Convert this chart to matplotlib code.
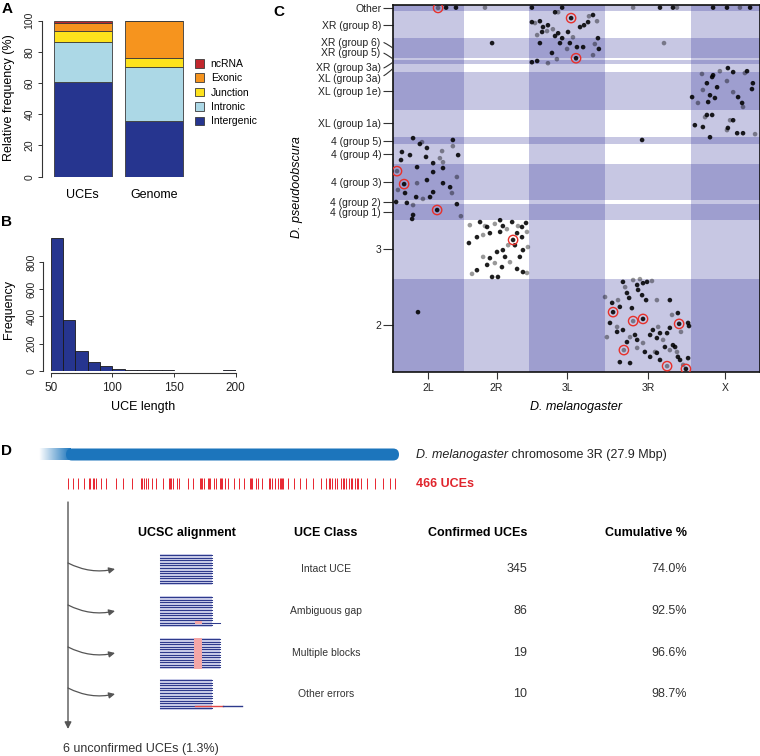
import numpy as np
import matplotlib.pyplot as plt
from matplotlib.patches import Patch, Rectangle, FancyBboxPatch
from matplotlib.colors import to_rgb

plt.rcParams['font.family'] = ['Liberation Sans', 'DejaVu Sans']

W, H = 760, 756

# ---------------- data ----------------
# A: genomic annotation of UCEs vs genome (%)
groups = ['UCEs', 'Genome']
classes = ['Intergenic', 'Intronic', 'Junction', 'Exonic', 'ncRNA']
class_colors = ['#26358f', '#acd8e6', '#fde21c', '#f6941e', '#c1272d']
freq_uces = [60.7, 25.6, 7.1, 5.3, 1.3]
freq_genome = [35.5, 34.6, 6.2, 23.3, 0.4]

# B: UCE length histogram
len_edges = np.arange(50, 201, 10)
len_counts = [975, 370, 148, 66, 33, 10, 4, 3, 2, 2, 1, 1, 1, 1, 2]

# C: synteny dot plot (Mb, cumulative)
mel_chroms = ['2L', '2R', '3L', '3R', 'X']
mel_sizes = [23.0, 21.1, 24.5, 27.9, 22.4]
pse_bands = ['2', '3', '4 (group 1)', '4 (group 2)', '4 (group 3)', '4 (group 4)',
             '4 (group 5)', 'XL (group 1a)', 'XL (group 1e)', 'XL (group 3a)',
             'XR (group 3a)', 'XR (group 5)', 'XR (group 6)', 'XR (group 8)', 'Other']
pse_sizes = [30.2, 19.2, 5.2, 1.3, 11.4, 6.5, 2.4, 8.7, 12.2, 2.6, 1.5, 0.45, 6.6, 8.6, 2.1]

pts_2L_4 = [(6.5, 75.8), (9.4, 74.5), (8.7, 73.9), (19.4, 75.2), (19.4, 73.2), (11.0, 72.6),
            (2.9, 71.3), (15.9, 71.6), (5.5, 70.3), (10.7, 69.7), (15.2, 69.3), (21.1, 70.3),
            (2.6, 68.7), (16.2, 68.0), (13.0, 67.7), (7.8, 66.4), (1.3, 65.1), (13.0, 64.8),
            (16.2, 66.1), (20.7, 63.2), (11.0, 62.2), (3.6, 60.9), (7.8, 61.2), (18.5, 59.9),
            (16.2, 61.2), (1.6, 59.0), (3.9, 58.0), (7.5, 56.7), (9.7, 56.1), (12.0, 56.7),
            (13.0, 58.3), (19.1, 58.0), (1.0, 55.1), (4.5, 54.8), (6.5, 54.1), (14.3, 52.5),
            (20.7, 54.4), (22.0, 50.5), (6.5, 50.9), (6.2, 49.6)]
pts_other = [(14.6, 118.0), (17.2, 118.1), (20.4, 118.1), (29.8, 118.1), (45.0, 118.1),
             (54.8, 118.1), (77.8, 118.1), (86.5, 118.1), (90.7, 118.1), (92.0, 118.1),
             (103.7, 118.1), (108.2, 118.1), (112.4, 118.1), (115.7, 118.1)]
pts_3L_XR = [(52.5, 116.6), (53.5, 116.6), (57.7, 114.7), (45.0, 113.4), (46.0, 113.1),
             (47.6, 113.7), (48.6, 111.8), (49.9, 110.5), (48.3, 110.2), (50.2, 112.4),
             (51.8, 111.1), (53.5, 109.8), (52.5, 108.9), (46.7, 109.2), (54.8, 108.2),
             (56.7, 110.2), (58.3, 108.5), (60.6, 111.8), (61.9, 112.4), (63.5, 115.3),
             (64.8, 115.7), (63.2, 113.4), (66.1, 113.7), (66.4, 108.2), (57.3, 106.6),
             (56.4, 104.7), (59.6, 105.3), (61.6, 105.3), (65.4, 106.3), (66.7, 104.7),
             (51.5, 103.4), (53.1, 101.4), (54.1, 106.6), (59.3, 101.7), (50.2, 100.1),
             (45.0, 100.4), (46.7, 100.8), (64.8, 102.7), (47.6, 106.6)]
pts_stray = [(32.1, 106.6), (87.8, 106.6), (80.7, 75.2), (8.1, 19.4)]
pts_X_XL = [(100.1, 96.6), (103.4, 95.6), (103.7, 96.2), (105.9, 97.5), (108.5, 98.5),
            (110.2, 97.2), (114.0, 96.9), (114.7, 97.5), (116.6, 93.6), (108.2, 94.3),
            (105.0, 92.3), (101.7, 93.6), (100.4, 91.4), (102.7, 89.7), (96.9, 89.1),
            (98.8, 87.2), (102.1, 87.5), (104.3, 88.8), (110.2, 90.7), (111.8, 89.1),
            (113.1, 87.2), (113.4, 85.9), (116.3, 91.7), (101.7, 83.3), (101.1, 82.6),
            (97.8, 80.0), (100.4, 79.4), (109.2, 81.6), (110.2, 81.6), (108.5, 79.1),
            (108.2, 78.4), (111.5, 77.4), (113.4, 77.4), (117.3, 77.1), (102.7, 76.1),
            (103.4, 83.3)]
pts_2R_3 = [(24.9, 47.6), (28.2, 48.6), (30.5, 47.0), (33.0, 48.0), (35.6, 47.3), (38.6, 48.6),
            (40.5, 47.3), (43.1, 48.3), (27.2, 43.7), (29.2, 44.4), (31.4, 45.0), (34.7, 45.4),
            (36.9, 46.3), (40.2, 45.0), (41.8, 43.7), (43.4, 45.4), (24.6, 41.8), (38.9, 42.8),
            (37.3, 41.1), (39.5, 41.1), (42.1, 39.5), (43.7, 40.5), (33.7, 38.9), (35.6, 39.5),
            (29.2, 37.3), (31.4, 36.9), (36.3, 37.3), (37.9, 35.6), (41.1, 37.3), (30.5, 34.7),
            (33.0, 35.3), (35.3, 34.0), (27.2, 33.0), (25.6, 31.8), (40.2, 33.4), (42.1, 32.4),
            (43.4, 32.1), (32.1, 30.8), (34.0, 30.8), (29.8, 47.3), (34.7, 49.2), (41.8, 47.0)]
pts_3R_2 = [(68.7, 24.3), (71.0, 22.4), (71.3, 19.4), (72.9, 23.3), (73.5, 21.1), (74.5, 29.2),
            (75.2, 27.5), (75.8, 25.6), (76.5, 24.0), (77.8, 29.8), (79.1, 28.2), (79.4, 26.6),
            (80.0, 30.1), (81.0, 28.8), (82.3, 29.2), (83.9, 29.5), (80.7, 24.9), (82.0, 23.3),
            (85.5, 23.3), (89.7, 23.3), (77.4, 20.7), (77.8, 16.5), (81.0, 17.2), (70.3, 15.9),
            (72.6, 14.6), (72.6, 13.0), (74.5, 13.6), (76.8, 11.3), (78.4, 12.0), (79.1, 10.4),
            (81.0, 9.4), (83.3, 12.0), (84.2, 13.6), (85.9, 14.6), (86.5, 12.6), (85.5, 11.0),
            (87.5, 10.4), (88.8, 12.6), (89.7, 14.3), (90.4, 18.5), (92.3, 19.1), (92.7, 15.6),
            (93.3, 13.0), (95.6, 15.9), (95.9, 14.9), (74.8, 7.1), (73.5, 3.2), (76.8, 2.9),
            (79.1, 7.8), (81.6, 6.5), (83.3, 4.9), (84.9, 6.5), (85.5, 6.2), (86.5, 3.9),
            (88.8, 1.9), (90.7, 8.7), (91.4, 8.1), (92.0, 6.5), (92.3, 4.9), (93.0, 3.9),
            (94.0, 2.3), (94.9, 1.0), (95.6, 4.5), (89.7, 7.1), (88.1, 8.1), (75.8, 9.7),
            (69.3, 11.3)]
pts_circled = [(14.6, 118.0), (1.3, 65.1), (3.6, 60.9), (14.3, 52.5), (57.7, 114.7),
               (59.3, 101.7), (38.9, 42.8), (71.3, 19.4), (77.8, 16.5), (81.0, 17.2),
               (92.7, 15.6), (74.8, 7.1), (88.8, 1.9), (94.9, 1.0)]

# D: UCE positions on D. melanogaster 3R (Mb) and validation table
chr3R_len = 27.9
uce_pos_3R = [0.19, 0.6, 1.0, 1.5, 1.9, 2.05, 2.24, 2.36, 2.48, 2.97, 3.38, 4.2, 4.77, 5.5,
              6.3, 6.4, 6.5, 6.7, 6.9, 7.2, 7.5, 8.1, 8.6, 8.7, 8.8, 9.0, 9.3, 9.5, 10.2,
              10.65, 11.2, 11.3, 11.4, 11.6, 11.9, 12.0, 12.1, 12.4, 12.6, 12.9, 13.0, 13.1,
              13.35, 13.6, 14.1, 14.5, 14.9, 15.4, 15.5, 15.6, 15.9, 16.1, 16.4, 17.0, 17.1,
              17.3, 17.5, 17.8, 17.9, 18.0, 18.1, 18.2, 18.6, 19.1, 19.6, 20.1, 20.7, 21.4,
              21.8, 22.0, 22.1, 22.3, 22.5, 22.7, 23.0, 23.2, 23.3, 23.5, 23.7, 23.9, 24.0,
              24.2, 24.35, 24.5, 24.7, 25.2, 25.9, 26.6, 27.15, 27.6]
uce_total = 466
uce_classes = ['Intact UCE', 'Ambiguous gap', 'Multiple blocks', 'Other errors']
confirmed = [345, 86, 19, 10]
cumulative = [74.0, 92.5, 96.6, 98.7]
unconfirmed = 6


def rect(l, t, r, b):
    return [l / W, 1 - b / H, (r - l) / W, (b - t) / H]


fig = plt.figure(figsize=(W / 100, H / 100), dpi=100)


def ftext(x, y, s, **kw):
    return fig.text(x / W, 1 - y / H, s, **kw)


# layout axes for panel D (pixel units)
axL = fig.add_axes([0, 0, 1, 1])
axL.set_xlim(0, W)
axL.set_ylim(H, 0)
axL.axis('off')

for lab, (x, y) in zip('ABCD', [(7, 9), (7, 222), (279, 12), (6, 451)]):
    ftext(x, y, lab, fontsize=11, fontweight='bold', ha='center', va='center')

axis_col = '#333333'

# ---------------- A ----------------
axA = fig.add_axes(rect(45, 20.7, 190, 176.7))
xpos = np.arange(len(groups))
bottom = np.zeros(len(groups))
for k, name in enumerate(classes):
    vals = np.array([freq_uces[k], freq_genome[k]])
    axA.bar(xpos, vals, 0.81, bottom=bottom, color=class_colors[k],
            edgecolor='#3a3a3a', linewidth=0.6)
    bottom += vals
axA.set_xlim(-0.53, 1.5)
axA.set_ylim(0, 100)
for s in ['top', 'right', 'bottom']:
    axA.spines[s].set_visible(False)
axA.spines['left'].set_position(('outward', 2.5))
axA.spines['left'].set_color(axis_col)
axA.set_yticks(range(0, 101, 20))
axA.tick_params(axis='y', labelsize=7.5, length=3, width=0.7, pad=2,
                labelrotation=90, color=axis_col, labelcolor='#222222')
for t in axA.get_yticklabels():
    t.set_va('center')
axA.set_xticks(xpos, groups)
axA.tick_params(axis='x', length=0, labelsize=9, pad=9)
ftext(9, 98, 'Relative frequency (%)', fontsize=9, rotation=90, ha='center', va='center')

handles = [Patch(facecolor=c, edgecolor='#3a3a3a', linewidth=0.6, label=n)
           for n, c in zip(classes, class_colors)][::-1]
fig.legend(handles=handles, loc='upper left', bbox_to_anchor=(195 / W, 1 - 59 / H),
           frameon=False, fontsize=7.5, handlelength=0.9, handleheight=0.9,
           handletextpad=0.6, labelspacing=0.42, borderpad=0, borderaxespad=0)

# ---------------- B ----------------
axB = fig.add_axes(rect(50.7, 235, 235.7, 370.7))
axB.bar(len_edges[:-1], len_counts, width=10, align='edge', color='#26358f',
        edgecolor='#1a1a1a', linewidth=0.6)
axB.set_xlim(50, 200)
axB.set_ylim(0, 1000)
for s in ['top', 'right']:
    axB.spines[s].set_visible(False)
axB.spines['left'].set_position(('outward', 5.3))
axB.spines['left'].set_bounds(0, 800)
axB.spines['bottom'].set_position(('outward', 2))
axB.spines['bottom'].set_bounds(50, 200)
for s in ['left', 'bottom']:
    axB.spines[s].set_color(axis_col)
axB.set_yticks(range(0, 801, 200))
axB.set_xticks([50, 100, 150, 200])
axB.tick_params(axis='y', labelsize=7.5, length=3, width=0.7, pad=2, labelrotation=90,
                color=axis_col, labelcolor='#222222')
for t in axB.get_yticklabels():
    t.set_va('center')
axB.tick_params(axis='x', labelsize=8.5, length=3, width=0.7, pad=3, color=axis_col,
                labelcolor='#222222')
ftext(9, 310, 'Frequency', fontsize=9, rotation=90, ha='center', va='center')
ftext(143, 407, 'UCE length', fontsize=9, ha='center', va='center')

# ---------------- C ----------------
axC = fig.add_axes(rect(393, 5, 760, 372))
mel_edges = np.concatenate([[0], np.cumsum(mel_sizes)])
pse_edges = np.concatenate([[0], np.cumsum(pse_sizes)])
shade = '#36369d'
for i in range(0, len(mel_sizes), 2):
    axC.axvspan(mel_edges[i], mel_edges[i + 1], color=shade, alpha=0.28, lw=0, zorder=0)
for i in range(0, len(pse_sizes), 2):
    axC.axhspan(pse_edges[i], pse_edges[i + 1], color=shade, alpha=0.28, lw=0, zorder=0)

all_pts = pts_2L_4 + pts_other + pts_3L_XR + pts_stray + pts_X_XL + pts_2R_3 + pts_3R_2
px = np.array([p[0] for p in all_pts])
py = np.array([p[1] for p in all_pts])
alphas = np.where(np.arange(len(px)) % 3 == 1, 0.4, 0.88)
cols = np.zeros((len(px), 4))
cols[:, 3] = alphas
axC.scatter(px, py, s=11, c=cols, lw=0, zorder=2)
cx = [p[0] for p in pts_circled]
cy = [p[1] for p in pts_circled]
axC.scatter(cx, cy, s=45, facecolor='none', edgecolor='#e8302a', lw=1.0, zorder=3)

axC.set_xlim(0, mel_edges[-1])
axC.set_ylim(0, pse_edges[-1])
for s in axC.spines.values():
    s.set_linewidth(1.2)
    s.set_color('#111111')
mel_centers = (mel_edges[:-1] + mel_edges[1:]) / 2
axC.set_xticks(mel_centers, mel_chroms)
axC.tick_params(axis='x', labelsize=7.5, length=5, width=0.8, pad=3, color=axis_col,
                labelcolor='#222222')

pse_centers = (pse_edges[:-1] + pse_edges[1:]) / 2
# bands whose labels are pushed aside with a curved leader (offset in points)
leader = {'XR (group 6)': 3.6, 'XR (group 5)': 4.3, 'XR (group 3a)': -4.3, 'XL (group 3a)': -7.8}
tick_y = [c for b, c in zip(pse_bands, pse_centers) if b not in leader]
tick_l = [b for b in pse_bands if b not in leader]
axC.set_yticks(tick_y, tick_l)
axC.tick_params(axis='y', labelsize=7.5, length=7, width=0.8, pad=1.5, color=axis_col,
                labelcolor='#222222')
for b, c in zip(pse_bands, pse_centers):
    if b in leader:
        axC.annotate(b, xy=(0, c), xycoords=('axes fraction', 'data'),
                     xytext=(-9, leader[b]), textcoords='offset points',
                     ha='right', va='center', fontsize=7.5, color='#222222',
                     annotation_clip=False,
                     arrowprops=dict(arrowstyle='-', color=axis_col, lw=0.8,
                                     connectionstyle='arc3,rad=%s' % (-0.3 if leader[b] > 0 else 0.3),
                                     shrinkA=0.5, shrinkB=0))
ftext(297, 187, 'D. pseudoobscura', fontsize=9, style='italic', rotation=90,
      ha='center', va='center')
ftext(576, 407, 'D. melanogaster', fontsize=9, style='italic', ha='center', va='center')

# ---------------- D ----------------
chrom_blue = '#1c75bc'
axChr = fig.add_axes(rect(30, 440, 410, 500))
x_lo, x_hi = (30 - 66) / 333 * chr3R_len, (410 - 66) / 333 * chr3R_len
grad = np.zeros((1, 64, 4))
grad[..., :3] = to_rgb(chrom_blue)
grad[..., 3] = np.linspace(0, 1, 64)
axChr.imshow(grad, extent=(-2.3, 0.3, 20.5, 8.5), aspect='auto', interpolation='bilinear')
axChr.add_patch(FancyBboxPatch((0, 8.5), chr3R_len, 12,
                               boxstyle='round,pad=0,rounding_size=0.5',
                               mutation_aspect=12, facecolor=chrom_blue, lw=0))
axChr.vlines(uce_pos_3R, 38, 49, color='#e8252f', lw=0.7)
axChr.set_xlim(x_lo, x_hi)
axChr.set_ylim(60, 0)
axChr.axis('off')

t1 = ftext(416, 455, 'D. melanogaster', fontsize=9, style='italic', va='center', color='#222222')
axL.annotate(' chromosome 3R (%.1f Mbp)' % chr3R_len, xy=(1, 0.5), xycoords=t1,
             va='center', ha='left', fontsize=9, color='#222222')
ftext(416, 484, '%d UCEs' % uce_total, fontsize=9, fontweight='bold', color='#e0252d',
      va='center')

grey = '#555555'
axL.annotate('', xy=(68, 729), xytext=(68, 502),
             arrowprops=dict(arrowstyle='-|>', color=grey, lw=1.0, mutation_scale=10,
                             shrinkA=0, shrinkB=0))
hdr_y = 533
ftext(187, hdr_y, 'UCSC alignment', fontsize=9, fontweight='bold', ha='center', va='center')
ftext(326, hdr_y, 'UCE Class', fontsize=9, fontweight='bold', ha='center', va='center')
ftext(527, hdr_y, 'Confirmed UCEs', fontsize=9, fontweight='bold', ha='right', va='center')
ftext(687, hdr_y, 'Cumulative %', fontsize=9, fontweight='bold', ha='right', va='center')

navy = '#2e3a8c'
lav = '#c9cbe8'
pink = '#f4a6a6'
row_y = [569, 611, 653, 694]
for k, y in enumerate(row_y):
    axL.annotate('', xy=(115, y), xytext=(68, y - 6),
                 arrowprops=dict(arrowstyle='-|>', color=grey, lw=0.9, mutation_scale=9,
                                 connectionstyle='arc3,rad=0.18', shrinkA=0, shrinkB=0))
    x0, x1 = 160, (220 if k == 2 else 212)
    y0 = y - 15
    n, step = 12, 2.55
    axL.add_patch(Rectangle((x0, y0), x1 - x0, n * step, facecolor=lav, lw=0))
    if k == 2:
        axL.add_patch(Rectangle((194, y0), 8, n * step, facecolor=pink, lw=0, zorder=3))
    for i in range(n):
        ly = y0 + (i + 0.5) * step
        axL.plot([x0, x1], [ly, ly], color=navy, lw=0.75, zorder=2)
    if k == 1:
        ly = y0 + 10.5 * step
        axL.plot([x1, 220], [ly, ly], color=navy, lw=0.75)
        axL.add_patch(Rectangle((195, ly - 1.3), 7, 2.6, facecolor=pink, lw=0, zorder=3))
    if k == 3:
        ly = y0 + 10.5 * step
        axL.plot([195, 223], [ly, ly], color='#e04545', lw=1.0, zorder=4)
        axL.plot([223, 242], [ly, ly], color=navy, lw=1.0, zorder=4)
    ftext(326, y, uce_classes[k], fontsize=7.5, ha='center', va='center', color='#333333')
    ftext(527, y, str(confirmed[k]), fontsize=9, ha='right', va='center', color='#333333')
    ftext(687, y, '%.1f%%' % cumulative[k], fontsize=9, ha='right', va='center', color='#333333')

ftext(63, 749, '%d unconfirmed UCEs (%.1f%%)' % (unconfirmed, unconfirmed / uce_total * 100),
      fontsize=9, ha='left', va='center', color='#333333')

fig.savefig('out.png', dpi=100)
